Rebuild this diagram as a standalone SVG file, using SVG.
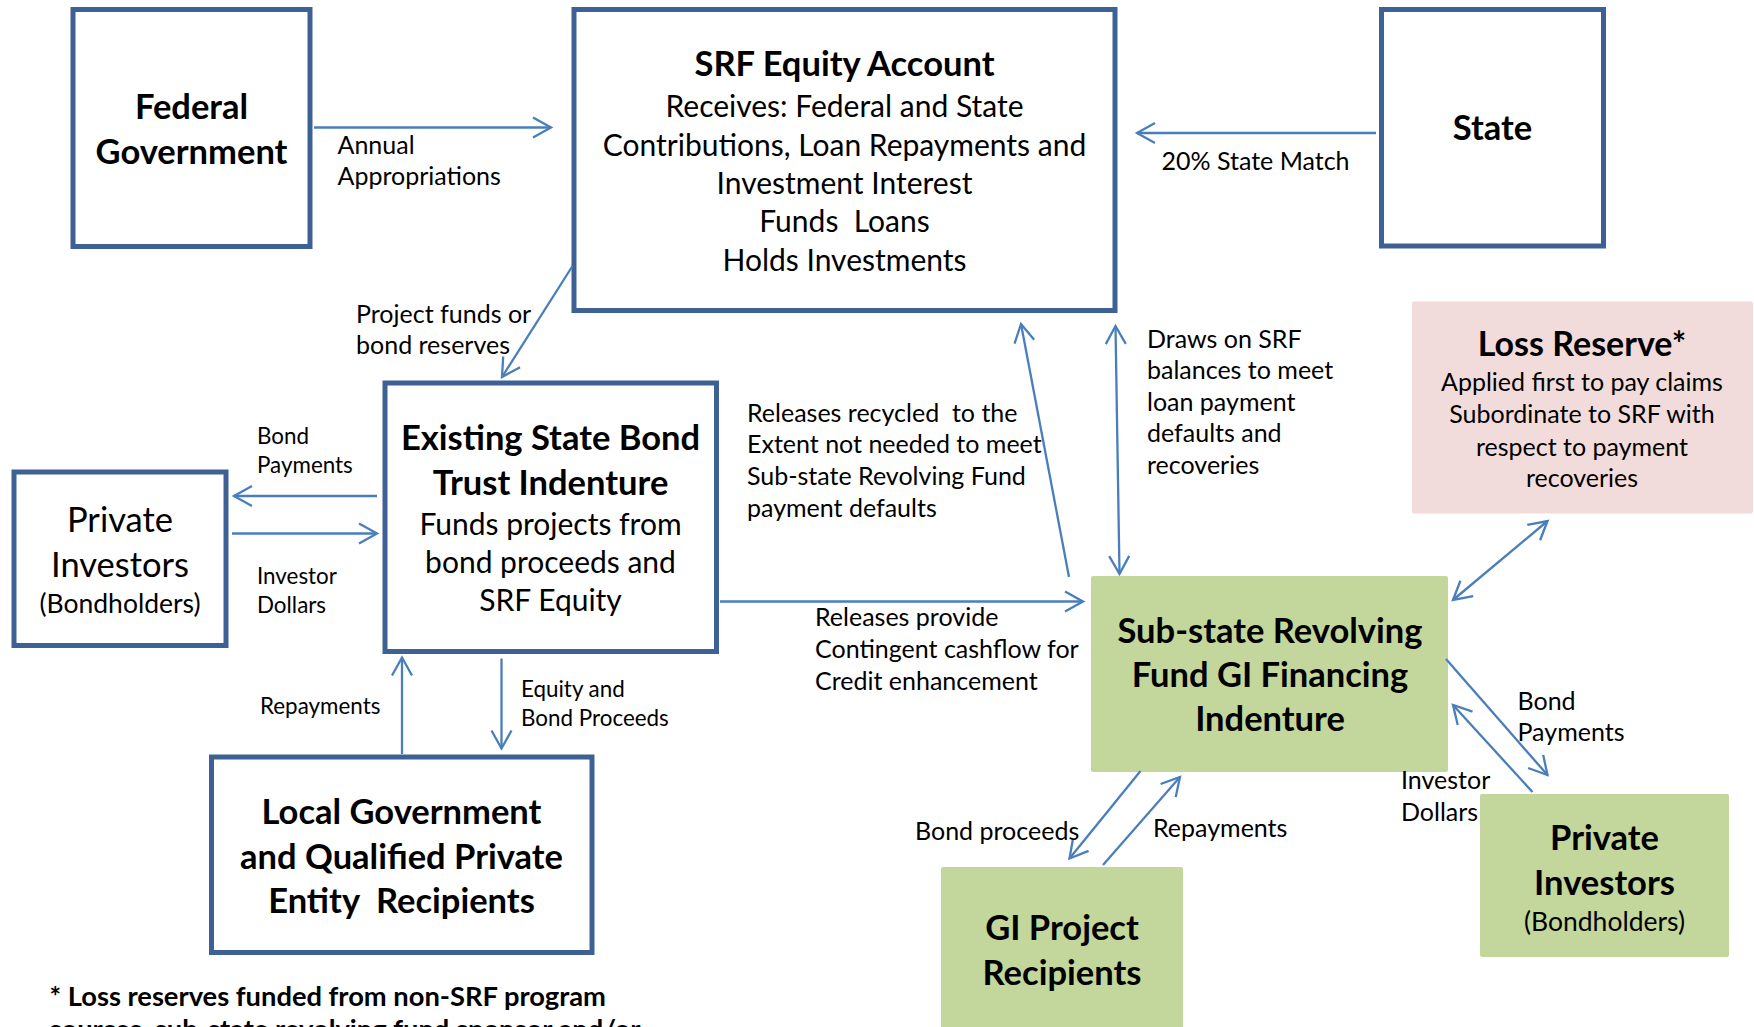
<svg xmlns="http://www.w3.org/2000/svg" width="1754" height="1027" viewBox="0 0 1754 1027">
<style>
text{font-family:Lato,"Open Sans","Liberation Sans",sans-serif;fill:#000}
.box{fill:#fff;stroke:#3D6194;stroke-width:5}
.green{fill:#C3D69B}
.pink{fill:#F2DCDB}
.t{font-weight:bold;font-size:34.5px;text-anchor:middle}
.b{font-size:30px;text-anchor:middle}
.lb{font-size:25px}
.sl{font-size:22.4px}
.c{stroke:#4A7EBB;stroke-width:2.3;fill:none}
</style>
<defs>
<marker id="ah" markerUnits="userSpaceOnUse" markerWidth="24" markerHeight="24" viewBox="-20 -12 24 24" refX="0" refY="0" orient="auto-start-reverse">
<path d="M-18 -10 L0 0 L-18 10" fill="none" stroke="#4A7EBB" stroke-width="2.3"/>
</marker>
</defs>

<g id="federal">
<rect class="box" x="73" y="9.5" width="237" height="237"/>
<text class="t" x="191.5" y="118.5">Federal</text>
<text class="t" x="191.5" y="163.5">Government</text>
</g>

<g id="srf">
<rect class="box" x="574" y="9.5" width="541" height="301"/>
<text class="t" x="844.5" y="76">SRF Equity Account</text>
<text class="b" x="844.5" y="116.5">Receives: Federal and State</text>
<text class="b" x="844.5" y="155.5">Contributions, Loan Repayments and</text>
<text class="b" x="844.5" y="194">Investment Interest</text>
<text class="b" x="844.5" y="232" xml:space="preserve">Funds  Loans</text>
<text class="b" x="844.5" y="270.5">Holds Investments</text>
</g>

<g id="state">
<rect class="box" x="1381.5" y="9.5" width="222" height="236.5"/>
<text class="t" x="1492.5" y="140">State</text>
</g>

<g id="loss-reserve">
<rect class="pink" x="1412" y="301.5" width="341" height="212" rx="2"/>
<text class="t" x="1582" y="356" style="font-size:34px">Loss Reserve*</text>
<text class="lb" x="1582" y="390.5" text-anchor="middle">Applied first to pay claims</text>
<text class="lb" x="1582" y="423" text-anchor="middle">Subordinate to SRF with</text>
<text class="lb" x="1582" y="455.5" text-anchor="middle">respect to payment</text>
<text class="lb" x="1582" y="487" text-anchor="middle">recoveries</text>
</g>

<g id="existing">
<rect class="box" x="385" y="383" width="331.5" height="268.5"/>
<text class="t" x="550.5" y="450">Existing State Bond</text>
<text class="t" x="550.5" y="495">Trust Indenture</text>
<text class="b" x="550.5" y="535">Funds projects from</text>
<text class="b" x="550.5" y="572.7">bond proceeds and</text>
<text class="b" x="550.5" y="610.7">SRF Equity</text>
</g>

<g id="private-left">
<rect class="box" x="14" y="472" width="212" height="173.5"/>
<text class="b" x="120" y="531.7" style="font-size:34.5px">Private</text>
<text class="b" x="120" y="576.7" style="font-size:34.5px">Investors</text>
<text class="b" x="120" y="612.5" style="font-size:26.5px">(Bondholders)</text>
</g>

<g id="local">
<rect class="box" x="211.5" y="757" width="380.5" height="195.5"/>
<text class="t" x="401.5" y="823.5">Local Government</text>
<text class="t" x="401.5" y="868.5">and Qualified Private</text>
<text class="t" x="401.5" y="913" xml:space="preserve">Entity  Recipients</text>
</g>

<g id="substate">
<rect class="green" x="1091" y="576" width="357" height="196" rx="2"/>
<text class="t" x="1270" y="642.5">Sub-state Revolving</text>
<text class="t" x="1270" y="686.5">Fund GI Financing</text>
<text class="t" x="1270" y="731">Indenture</text>
</g>

<g id="gi">
<rect class="green" x="941" y="867" width="242" height="170" rx="2"/>
<text class="t" x="1062" y="939.5">GI Project</text>
<text class="t" x="1062" y="985">Recipients</text>
</g>

<g id="private-right">
<rect class="green" x="1480" y="794" width="249" height="163" rx="2"/>
<text class="t" x="1604.5" y="849.5">Private</text>
<text class="t" x="1604.5" y="894.5">Investors</text>
<text class="b" x="1604.5" y="931" style="font-size:26.5px">(Bondholders)</text>
</g>

<g id="connectors">
<path class="c" d="M314 127.5 L551 127.5" marker-end="url(#ah)"/>
<path class="c" d="M1376 133 L1137 133" marker-end="url(#ah)"/>
<path class="c" d="M572.5 266 L502 377" marker-end="url(#ah)"/>
<path class="c" d="M377 496 L234 496" marker-end="url(#ah)"/>
<path class="c" d="M232 533.5 L377 533.5" marker-end="url(#ah)"/>
<path class="c" d="M402 754 L402 657.5" marker-end="url(#ah)"/>
<path class="c" d="M501.5 658.5 L501.5 748.5" marker-end="url(#ah)"/>
<path class="c" d="M720 601.5 L1083 601.5" marker-end="url(#ah)"/>
<path class="c" d="M1069 577 L1021 324" marker-end="url(#ah)"/>
<path class="c" d="M1115.5 326 L1119.5 574" marker-start="url(#ah)" marker-end="url(#ah)"/>
<path class="c" d="M1453 600 L1547.5 521" marker-start="url(#ah)" marker-end="url(#ah)"/>
<path class="c" d="M1446 659 L1547.5 775" marker-end="url(#ah)"/>
<path class="c" d="M1532.5 792 L1453 705" marker-end="url(#ah)"/>
<path class="c" d="M1140.5 771 L1069.5 858.5" marker-end="url(#ah)"/>
<path class="c" d="M1103 865 L1180 777" marker-end="url(#ah)"/>

<text class="lb" x="337.5" y="153.5">Annual</text>
<text class="lb" x="337.5" y="185">Appropriations</text>
<text class="lb" x="1161.5" y="169.5">20% State Match</text>
<text class="lb" x="356" y="322.5">Project funds or</text>
<text class="lb" x="356" y="354">bond reserves</text>
<text class="lb" x="1147" y="347.5">Draws on SRF</text>
<text class="lb" x="1147" y="379">balances to meet</text>
<text class="lb" x="1147" y="410.5">loan payment</text>
<text class="lb" x="1147" y="442">defaults and</text>
<text class="lb" x="1147" y="474">recoveries</text>
<text class="sl" x="257" y="444">Bond</text>
<text class="sl" x="257" y="472.5">Payments</text>
<text class="sl" x="257" y="584">Investor</text>
<text class="sl" x="257" y="613">Dollars</text>
<text class="lb" x="747" y="421.5" xml:space="preserve">Releases recycled  to the</text>
<text class="lb" x="747" y="453">Extent not needed to meet</text>
<text class="lb" x="747" y="485">Sub-state Revolving Fund</text>
<text class="lb" x="747" y="516.5">payment defaults</text>
<text class="lb" x="815" y="626">Releases provide</text>
<text class="lb" x="815" y="658">Contingent cashflow for</text>
<text class="lb" x="815" y="690">Credit enhancement</text>
<text class="sl" x="260" y="714">Repayments</text>
<text class="sl" x="521" y="696.5">Equity and</text>
<text class="sl" x="521" y="725.5">Bond Proceeds</text>
<text class="lb" x="1517.5" y="709.5">Bond</text>
<text class="lb" x="1517.5" y="740.5">Payments</text>
<text class="lb" x="1401" y="789">Investor</text>
<text class="lb" x="1401" y="820.5">Dollars</text>
<text class="lb" x="915" y="839.5">Bond proceeds</text>
<text class="lb" x="1153" y="836.5">Repayments</text>
</g>

<g id="footnote">
<text x="49.5" y="1005.5" style="font-weight:bold;font-size:27.3px">* Loss reserves funded from non-SRF program</text>
<text x="49.5" y="1038.5" style="font-weight:bold;font-size:27.3px">sources, sub-state revolving fund sponsor and/or</text>
</g>
</svg>
